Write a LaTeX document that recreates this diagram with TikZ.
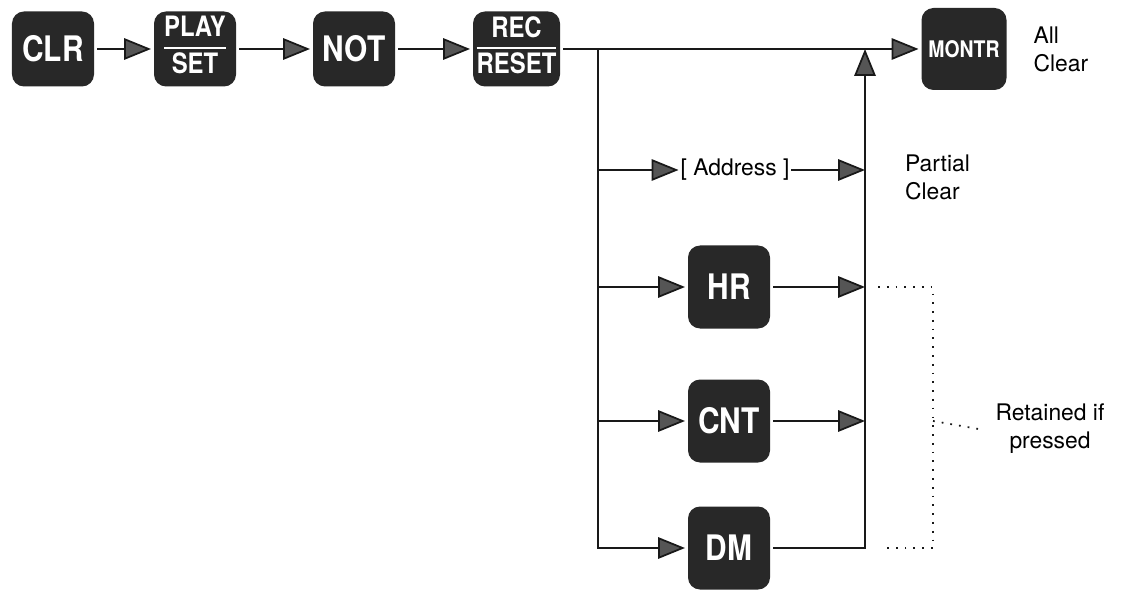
\documentclass[tikz,border=0pt]{standalone}
\usepackage{fontspec}
\setmainfont{TeX Gyre Heros}
\newfontfamily\keyfont[FakeStretch=0.85]{TeX Gyre Heros}
\usetikzlibrary{arrows.meta,positioning}
\usepackage{xcolor}
\definecolor{keygray}{RGB}{40,40,40}
\definecolor{tipgray}{RGB}{85,85,85}
\definecolor{inkgray}{RGB}{25,25,25}

% two-word key with a bar between the words
\newcommand{\keysplit}[2]{{\setlength{\arrayrulewidth}{1.4pt}\setlength{\tabcolsep}{0pt}%
  \renewcommand{\arraystretch}{0.95}\begin{tabular}{c}#1\\[1pt]\hline\noalign{\vskip2pt}#2\end{tabular}}}

\begin{document}
\begin{tikzpicture}[
    x=0.2mm, y=-0.2mm,
    key/.style={fill=keygray, text=white, rounded corners=2.4mm, minimum width=16.4mm, minimum height=15mm,
      inner sep=0pt, outer sep=0.6mm, font=\fontsize{20}{20}\keyfont\bfseries},
    splitkey/.style={key, font=\fontsize{16}{16}\keyfont\bfseries},
    tallkey/.style={key, minimum height=16.6mm},
    note/.style={font=\fontsize{13}{16}\selectfont, align=left, inner sep=1pt},
    arrow/.style={-{Triangle[length=5.4mm, width=4.3mm, fill=tipgray]}, line width=1pt, inkgray},
    wire/.style={line width=1pt, inkgray},
    dotline/.style={line width=1pt, dash pattern=on 1pt off 4pt, inkgray}
  ]
    \useasboundingbox (0,0) rectangle (1132,590);

    % key sequence
    \node[key] (clr) at (53,49) {CLR};
    \node[splitkey, right=10.8mm of clr] (playset) {\keysplit{PLAY}{SET}};
    \node[key, right=14.2mm of playset] (not) {NOT};
    \node[splitkey, right=14.4mm of not, minimum width=17.4mm] (recreset) {\keysplit{REC}{RESET}};
    \node[key, minimum width=17mm, minimum height=16.4mm, font=\fontsize{13}{13}\keyfont\bfseries] (montr) at (964,49) {MONTR};
    \node[note, right=4.4mm of montr] (allclear) {All\\Clear};

    \coordinate (split) at (598,49);
    \coordinate (join) at (865,49);

    % partial clear branches
    \node[note] (address) at (735,170) {[ Address ]};
    \node[note, anchor=west] (partial) at (903,177) {Partial\\Clear};
    \node[tallkey] (hr) at (729,287) {HR};
    \node[tallkey] (cnt) at (729,421) {CNT};
    \node[tallkey] (dm) at (729,548) {DM};
    \node[note, align=center] (retained) at (1050,429) {Retained if\\pressed};

    \draw[arrow] (clr) -- (playset);
    \draw[arrow] (playset) -- (not);
    \draw[arrow] (not) -- (recreset);
    \draw[arrow] (recreset) -- (montr);
    \draw[arrow] (split) |- (dm);
    \foreach \k in {address,hr,cnt} {
      \draw[arrow] (split |- \k) -- (\k);
      \draw[arrow] (\k) -- (join |- \k);
    }
    \draw[arrow] (dm) -| (join);

    % retained keys
    \coordinate (rtop) at (933,287);
    \coordinate (rbot) at (933,548);
    \draw[dotline] ([xshift=2.6mm]join |- hr) -- (rtop) -- (rbot) -- ([xshift=4mm]join |- dm);
    \draw[dotline] (rtop |- cnt) -- ([xshift=-3mm]retained.west);
\end{tikzpicture}
\end{document}
